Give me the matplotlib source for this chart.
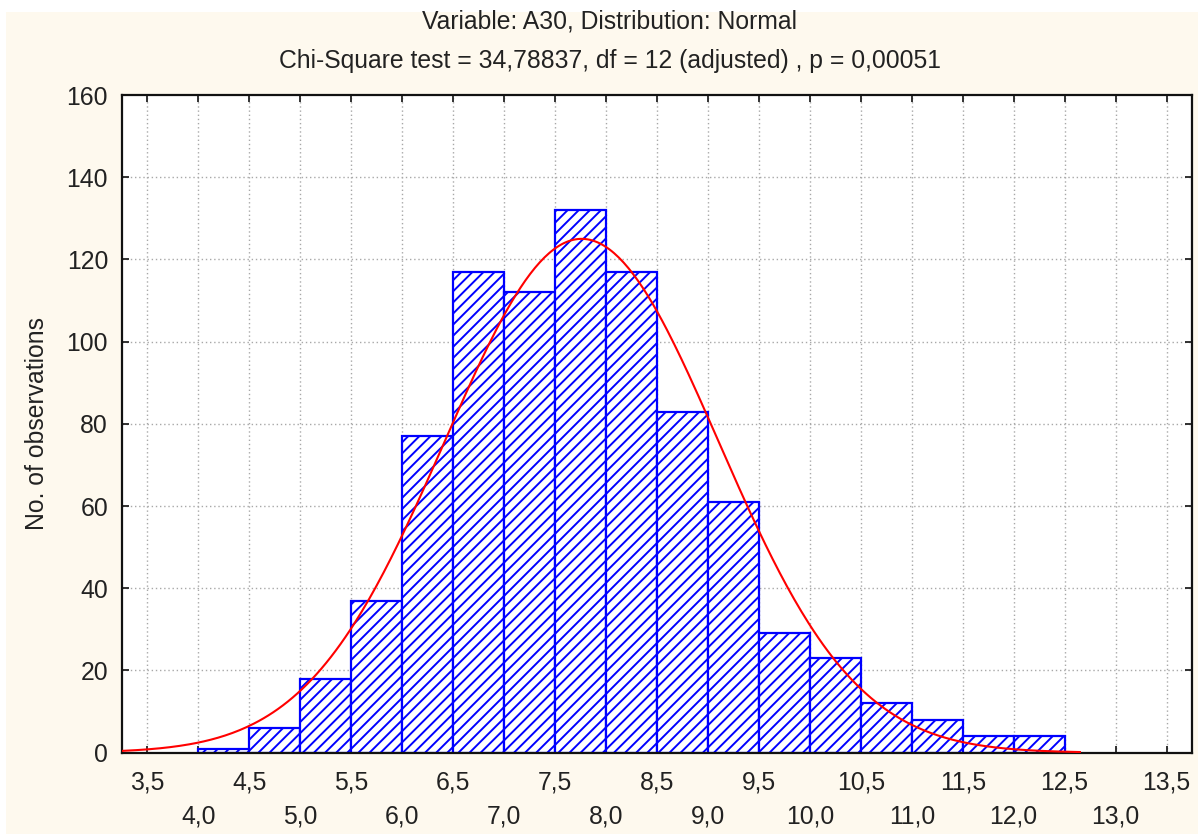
import numpy as np
import matplotlib
matplotlib.use("Agg")
import matplotlib.pyplot as plt
from matplotlib.patches import Rectangle

plt.rcParams['font.family'] = ['Liberation Sans', 'DejaVu Sans']
plt.rcParams['hatch.linewidth'] = 1.4

# ---- data ----
bin_left = [4.0, 4.5, 5.0, 5.5, 6.0, 6.5, 7.0, 7.5, 8.0, 8.5, 9.0, 9.5, 10.0, 10.5, 11.0, 11.5, 12.0]
counts = [1, 6, 18, 37, 77, 117, 112, 132, 117, 83, 61, 29, 23, 12, 8, 4, 4]
bin_width = 0.5
fit_mean = 7.76
fit_sd = 1.342
curve_start = 3.25
curve_end = 12.65
upper_ticks = [3.5, 4.5, 5.5, 6.5, 7.5, 8.5, 9.5, 10.5, 11.5, 12.5, 13.5]
lower_ticks = [4.0, 5.0, 6.0, 7.0, 8.0, 9.0, 10.0, 11.0, 12.0, 13.0]
y_ticks = [0, 20, 40, 60, 80, 100, 120, 140, 160]
title1 = "Variable: A30, Distribution: Normal"
title2 = "Chi-Square test = 34,78837, df = 12 (adjusted) , p = 0,00051"
ylabel = "No. of observations"

def fmt(v):
    return f"{v:.1f}".replace(".", ",")

W, H = 1198, 834
fig = plt.figure(figsize=(W / 100, H / 100), dpi=100)
fig.patch.set_facecolor('white')
fig.patches.append(Rectangle((6 / W, 0), 1 - 6 / W, 1 - 12 / H, transform=fig.transFigure,
                             facecolor='#FEF9EE', edgecolor='none', zorder=-10))

ax = fig.add_axes([122 / W, 1 - 752.7 / H, (1192 - 122) / W, (752.7 - 95) / H])
ax.set_facecolor('white')

# grid
for x in upper_ticks + lower_ticks:
    ax.axvline(x, color='#A8A8A8', linestyle=(0, (1, 2)), linewidth=1.0, zorder=0)
for y in y_ticks[1:-1]:
    ax.axhline(y, color='#A8A8A8', linestyle=(0, (1, 2)), linewidth=1.0, zorder=0)

# bars
ax.bar(bin_left, counts, width=bin_width, align='edge', facecolor='white',
       edgecolor='#0000FF', linewidth=1.6, hatch='///', zorder=2)

# fitted normal curve
N = sum(counts)
xs = np.linspace(curve_start, curve_end, 400)
ys = N * bin_width / (fit_sd * np.sqrt(2 * np.pi)) * np.exp(-0.5 * ((xs - fit_mean) / fit_sd) ** 2)
ax.plot(xs, ys, color='#FF0000', linewidth=1.5, zorder=3)

ax.set_xlim(3.25, 13.75)
ax.set_ylim(0, 160)

ax.set_xticks(upper_ticks)
ax.set_xticklabels([fmt(v) for v in upper_ticks])
ax.set_xticks(lower_ticks, minor=True)
ax.set_xticklabels([fmt(v) for v in lower_ticks], minor=True)
ax.set_yticks(y_ticks)
ax.set_yticklabels([str(v) for v in y_ticks])

fs = 17.8
ax.tick_params(axis='x', which='major', direction='in', length=5, width=1.3,
               top=True, pad=13, labelsize=fs, colors='#222222')
ax.tick_params(axis='x', which='minor', direction='in', length=5, width=1.3,
               top=True, pad=37, labelsize=fs, colors='#222222')
ax.tick_params(axis='y', which='major', direction='in', length=5, width=1.3,
               right=True, pad=10, labelsize=fs, colors='#222222')

for s in ax.spines.values():
    s.set_linewidth(1.6)
    s.set_color('#111111')

ax.set_ylabel(ylabel, fontsize=fs, color='#222222')
ax.yaxis.set_label_coords(-0.068, 0.5)

fig.text(610 / W, 1 - 22 / H, title1, ha='center', va='center', fontsize=fs, color='#222222')
fig.text(610 / W, 1 - 61 / H, title2, ha='center', va='center', fontsize=fs, color='#222222')

fig.savefig("out.png", dpi=100, facecolor=fig.get_facecolor())
